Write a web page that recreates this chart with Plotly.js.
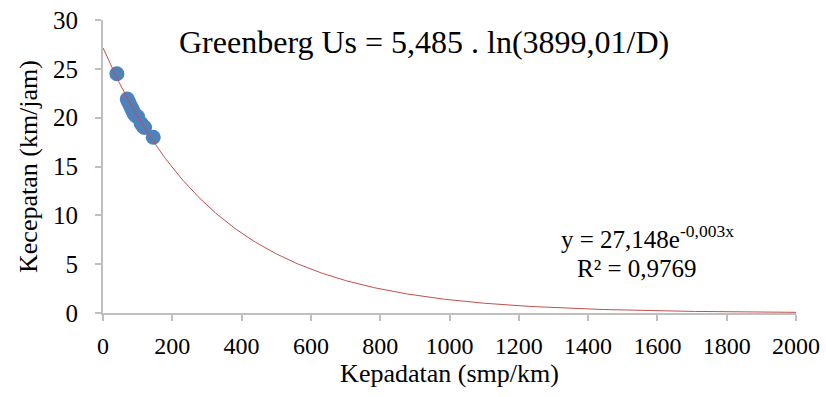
<!DOCTYPE html>
<html>
<head>
<meta charset="utf-8">
<script src="https://cdn.plot.ly/plotly-3.0.1.min.js"></script>
<style>html,body{margin:0;padding:0;background:#fff;}#chart{width:826px;height:397px;}</style>
</head>
<body>
<div id="chart"></div>
<script>
// Observed data (density smp/km, speed km/jam)
const density = [40, 70, 74, 78, 82, 86, 90, 95, 100, 110, 116, 120, 145];
const speed   = [24.5, 21.9, 21.6, 21.3, 21.0, 20.7, 20.4, 20.2, 20.1, 19.4, 19.1, 19.0, 18.0];

// Excel exponential trendline shown on the chart: y = 27,148 e^(-0,003x)
const trendA = 27.148;
const trendB = -0.003;
const trendXMax = 2000;

const xTickVals = [0, 200, 400, 600, 800, 1000, 1200, 1400, 1600, 1800, 2000];
const yTickVals = [0, 5, 10, 15, 20, 25, 30];

const titleText = "Greenberg Us = 5,485 . ln(3899,01/D)";
const eqText = "y = 27,148e<sup>-0,003x</sup>";
const r2Text = "R² = 0,9769";

const trendX = [];
const trendY = [];
for (let x = 0; x <= trendXMax; x += 5) {
  trendX.push(x);
  trendY.push(trendA * Math.exp(trendB * x));
}

const serif = "Liberation Serif, Times New Roman, serif";

const traces = [
  {
    x: density, y: speed, type: "scatter", mode: "markers",
    marker: {size: 15, color: "#4F81BD"}, hoverinfo: "skip", showlegend: false
  },
  {
    x: trendX, y: trendY, type: "scatter", mode: "lines",
    line: {color: "#C0504D", width: 1}, hoverinfo: "skip", showlegend: false
  }
];

const layout = {
  width: 826, height: 397,
  margin: {l: 103, r: 30, t: 20, b: 84},
  paper_bgcolor: "#fff", plot_bgcolor: "#fff",
  font: {family: serif, color: "#000", size: 24},
  showlegend: false,
  xaxis: {
    range: [0, 2000], tickvals: xTickVals, ticktext: xTickVals.map(String),
    showgrid: false, zeroline: false, showline: true, linecolor: "#BFBFBF", linewidth: 2,
    ticks: "outside", ticklen: 6, tickcolor: "#BFBFBF", tickwidth: 2,
    ticklabelstandoff: 4,
    tickfont: {family: serif, size: 24, color: "#000"},
    title: {text: "Kepadatan (smp/km)", font: {family: serif, size: 26, color: "#000"}, standoff: 4},
    fixedrange: true
  },
  yaxis: {
    range: [0, 30], tickvals: yTickVals, ticktext: yTickVals.map(String),
    showgrid: false, zeroline: false, showline: true, linecolor: "#BFBFBF", linewidth: 2,
    ticks: "outside", ticklen: 6, tickcolor: "#BFBFBF", tickwidth: 2,
    ticklabelstandoff: 12,
    tickfont: {family: serif, size: 25, color: "#000"},
    title: {text: "Kecepatan (km/jam)", font: {family: serif, size: 26, color: "#000"}, standoff: 8},
    fixedrange: true
  },
  annotations: [
    {text: titleText, xref: "paper", yref: "paper", x: 0.463, y: 0.925, xanchor: "center", yanchor: "middle",
     showarrow: false, font: {family: serif, size: 32, color: "#000"}},
    {text: eqText, xref: "paper", yref: "paper", x: 0.785, y: 0.258, xanchor: "center", yanchor: "middle",
     showarrow: false, font: {family: serif, size: 25, color: "#000"}},
    {text: r2Text, xref: "paper", yref: "paper", x: 0.771, y: 0.152, xanchor: "center", yanchor: "middle",
     showarrow: false, font: {family: serif, size: 25, color: "#000"}}
  ]
};

Plotly.newPlot("chart", traces, layout, {displayModeBar: false, staticPlot: true});
</script>
</body>
</html>
